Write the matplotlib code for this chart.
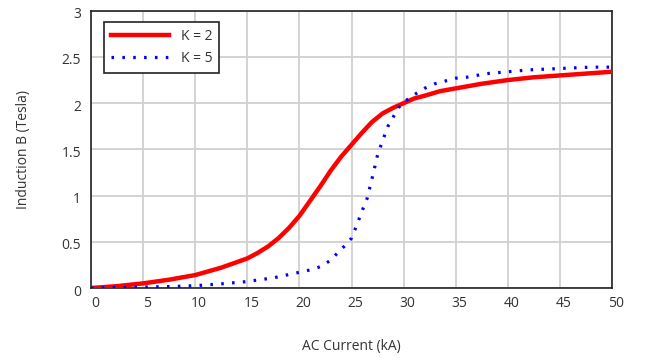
import numpy as np
import matplotlib
matplotlib.use("Agg")
import matplotlib.pyplot as plt
import matplotlib.transforms as mtransforms

plt.rcParams['font.family'] = ['Open Sans', 'DejaVu Sans']

# K = 2 curve
x_k2 = [0, 2.5, 5, 7.5, 10, 12.5, 15, 16, 17, 18, 19, 20, 21, 22, 23, 24, 25, 26, 27, 28,
        29, 30, 31, 32, 33.5, 35, 37.5, 40, 42.5, 45, 47.5, 50]
b_k2 = [0, 0.02, 0.05, 0.09, 0.14, 0.22, 0.32, 0.38, 0.45, 0.54, 0.65, 0.78, 0.94, 1.1,
        1.27, 1.42, 1.55, 1.68, 1.8, 1.89, 1.95, 2.0, 2.05, 2.08, 2.13, 2.16, 2.21, 2.25,
        2.28, 2.3, 2.32, 2.34]

# K = 5 curve
x_k5 = [0, 2.5, 5, 7.5, 10, 12.5, 15, 17.5, 20, 21, 22, 23, 24, 24.5, 25, 25.5, 26, 26.5,
        27, 27.5, 28, 28.5, 29, 29.5, 30, 31, 32, 33, 34, 35, 36, 38, 40, 42, 44, 46, 48, 50]
b_k5 = [0, 0.005, 0.01, 0.015, 0.025, 0.045, 0.07, 0.11, 0.17, 0.195, 0.23, 0.3, 0.42, 0.47,
        0.54, 0.68, 0.83, 0.97, 1.2, 1.44, 1.6, 1.75, 1.85, 1.95, 2.01, 2.09, 2.16, 2.21,
        2.24, 2.27, 2.28, 2.32, 2.34, 2.36, 2.37, 2.38, 2.39, 2.39]

x_ticks = [0, 5, 10, 15, 20, 25, 30, 35, 40, 45, 50]
y_ticks = [0, 0.5, 1, 1.5, 2, 2.5, 3]
y_labels = ['0', '0.5', '1', '1.5', '2', '2.5', '3']

fig = plt.figure(figsize=(6.47, 3.58), dpi=100)
ax = fig.add_axes([0.1406, 0.1955, 0.8054, 0.7745])

ax.plot(x_k2, b_k2, color='red', lw=3.2, label='K = 2', zorder=3)
ax.plot(x_k5, b_k5, color='blue', lw=2.3, linestyle=(0, (0.8, 2.6)),
        dash_capstyle='butt', label='K = 5', zorder=3)

ax.set_xlim(0, 50)
ax.set_ylim(0, 3)
ax.set_xticks(x_ticks)
ax.set_yticks(y_ticks)
ax.set_yticklabels(y_labels)
ax.grid(True, color='#d0d0d0', lw=1.3)
ax.set_axisbelow(True)
ax.tick_params(length=0, labelsize=10, colors='#333333')
ax.tick_params(axis='x', pad=6)
ax.tick_params(axis='y', pad=7)
for s in ax.spines.values():
    s.set_color('#222222')
    s.set_linewidth(1.2)

# tick labels in the reference sit a few pixels right / low
off = mtransforms.ScaledTranslation(4 / 100, 0, fig.dpi_scale_trans)
for lab in ax.get_xticklabels():
    lab.set_transform(lab.get_transform() + off)
off_y = mtransforms.ScaledTranslation(0, -2 / 100, fig.dpi_scale_trans)
for lab in ax.get_yticklabels():
    lab.set_transform(lab.get_transform() + off_y)

ax.set_xlabel('AC Current (kA)', fontsize=10, color='#333333', labelpad=20)
ax.set_ylabel('Induction B (Tesla)', fontsize=10, color='#333333', labelpad=22)

leg = ax.legend(loc='upper left', fontsize=10, handlelength=4.2, fancybox=False,
                framealpha=1, edgecolor='#222222', borderpad=0.5,
                bbox_to_anchor=(0.012, 0.985))
leg.get_frame().set_linewidth(1.2)
for t in leg.get_texts():
    t.set_color('#333333')

fig.savefig('out.png', dpi=100)
